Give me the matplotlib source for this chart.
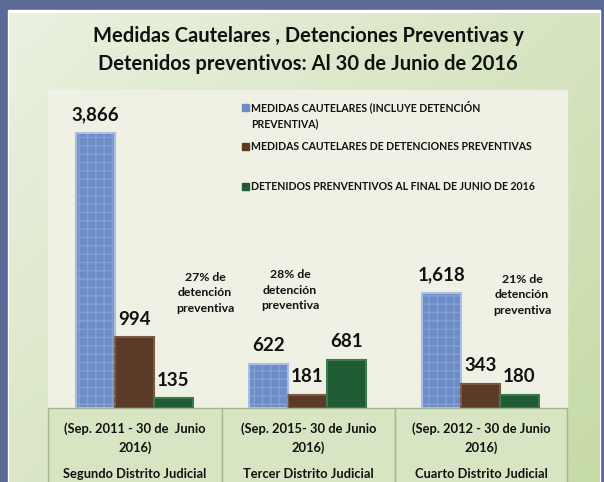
import numpy as np
import matplotlib
matplotlib.use("Agg")
import matplotlib.pyplot as plt
from matplotlib.patches import Rectangle

# ---------------- data ----------------
districts = ["Segundo Distrito Judicial", "Tercer Distrito Judicial", "Cuarto Distrito Judicial"]
periods = ["(Sep. 2011 - 30 de  Junio\n2016)", "(Sep. 2015- 30 de Junio\n2016)", "(Sep. 2012 - 30 de Junio\n2016)"]
series_names = ["MEDIDAS CAUTELARES (INCLUYE DETENCIÓN\nPREVENTIVA)",
                "MEDIDAS CAUTELARES DE DETENCIONES PREVENTIVAS",
                "DETENIDOS PRENVENTIVOS AL FINAL DE JUNIO DE 2016"]
medidas = [3866, 622, 1618]
medidas_detencion = [994, 181, 343]
detenidos = [135, 681, 180]
pct_labels = ["27% de\ndetención\npreventiva", "28% de\ndetención\npreventiva", "21% de\ndetención\npreventiva"]
title = "Medidas Cautelares , Detenciones Preventivas y\nDetenidos preventivos: Al 30 de Junio de 2016"

W, H = 604, 482
FONT = "Lato"
fig = plt.figure(figsize=(W / 100, H / 100), dpi=100)

def fx(x):
    return x / W

def fy(y):
    return 1 - y / H

# ---------------- background ----------------
bg = fig.add_axes([0, 0, 1, 1])
bg.set_xlim(0, W)
bg.set_ylim(H, 0)
bg.axis("off")
# border
bg.add_patch(Rectangle((0, 0), W, H, color="#5b6a94", zorder=0))
bg.add_patch(Rectangle((8, 10), W - 12, H, color="#ffffff", zorder=1))
# green gradient frame
gx = np.linspace(0, 1, 200)
gy = np.linspace(0, 1, 200)
GX, GY = np.meshgrid(gx, gy)
t = np.clip(0.55 * GX + 0.45 * GY, 0, 1)
c0 = np.array([0xeb, 0xf1, 0xe1]) / 255
c1 = np.array([0xc6, 0xda, 0xa6]) / 255
img = c0[None, None, :] * (1 - t[..., None]) + c1[None, None, :] * t[..., None]
bg.imshow(img, extent=(9, W - 4, H, 13), aspect="auto", zorder=2)
# plot panel
bg.add_patch(Rectangle((48, 90), 567 - 48, 408 - 90, color="#eef1e4", zorder=3))
# table cells
col_edges = [48, 222, 395, 567]
for i in range(3):
    bg.add_patch(Rectangle((col_edges[i], 408), col_edges[i + 1] - col_edges[i], 80,
                           facecolor="#d8e5c2", edgecolor="#a6b596", lw=1.0, zorder=4))

# ---------------- chart axes ----------------
ax = fig.add_axes([fx(48), fy(408), fx(567) - fx(48), fy(90) - fy(408)])
ax.patch.set_alpha(0)
for s in ax.spines.values():
    s.set_visible(False)
ax.set_xticks([])
ax.set_yticks([])
ax.set_xlim(-0.5, 2.5)
ax.set_ylim(0, 4470)

x = np.arange(3)
bw = 0.225
colors = ["#6c8cc8", "#5b3a27", "#1f5c34"]
edges = ["#a9bfe6", "#7d5840", "#3d7a50"]
series = [medidas, medidas_detencion, detenidos]
for k, (vals, c, e) in enumerate(zip(series, colors, edges)):
    xs = x + (k - 1) * bw
    ax.bar(xs, vals, width=bw, color=c, edgecolor=e, linewidth=1.5, zorder=3)
    if k == 0:
        ax.bar(xs, vals, width=bw, color="none", edgecolor="#9db4de", hatch="++",
               linewidth=0, zorder=4, alpha=0.5)
    for xi, v in zip(xs, vals):
        ax.annotate(f"{v:,}", (xi, v), xytext=(0, 7), textcoords="offset points",
                    ha="center", va="bottom", fontsize=13.5, fontweight="bold",
                    family=FONT, color="#111111")

# percentage notes
pct_pos = [(205, 293), (290, 290), (522, 295)]
for (px, py), lab in zip(pct_pos, pct_labels):
    fig.text(fx(px), fy(py), lab, ha="center", va="center", fontsize=8.8,
             fontweight="bold", family=FONT, color="#111111", linespacing=1.5)

# legend
leg_y = [115, 146, 186]
leg_colors = ["#6c8cc8", "#5b3a27", "#1f5c34"]
for yy, c, name in zip(leg_y, leg_colors, series_names):
    top_line_y = yy - 8 if "\n" in name else yy
    bg.add_patch(Rectangle((242, top_line_y - 3.5), 7, 7, color=c, zorder=6))
    fig.text(fx(251), fy(yy), name, ha="left", va="center", fontsize=7.6,
             fontweight="bold", family=FONT, color="#111111", linespacing=1.6)

# table text
for i in range(3):
    cx = (col_edges[i] + col_edges[i + 1]) / 2
    fig.text(fx(cx), fy(438), periods[i], ha="center", va="center", fontsize=9.3,
             fontweight="bold", family=FONT, color="#111111", linespacing=1.55)
    fig.text(fx(cx), fy(474), districts[i], ha="center", va="center", fontsize=9.3,
             fontweight="bold", family=FONT, color="#111111")

# title
fig.text(fx(308), fy(50), title, ha="center", va="center", fontsize=14.5,
         fontweight="bold", family=FONT, color="#111111", linespacing=1.5)

fig.savefig("out.png", dpi=100)
